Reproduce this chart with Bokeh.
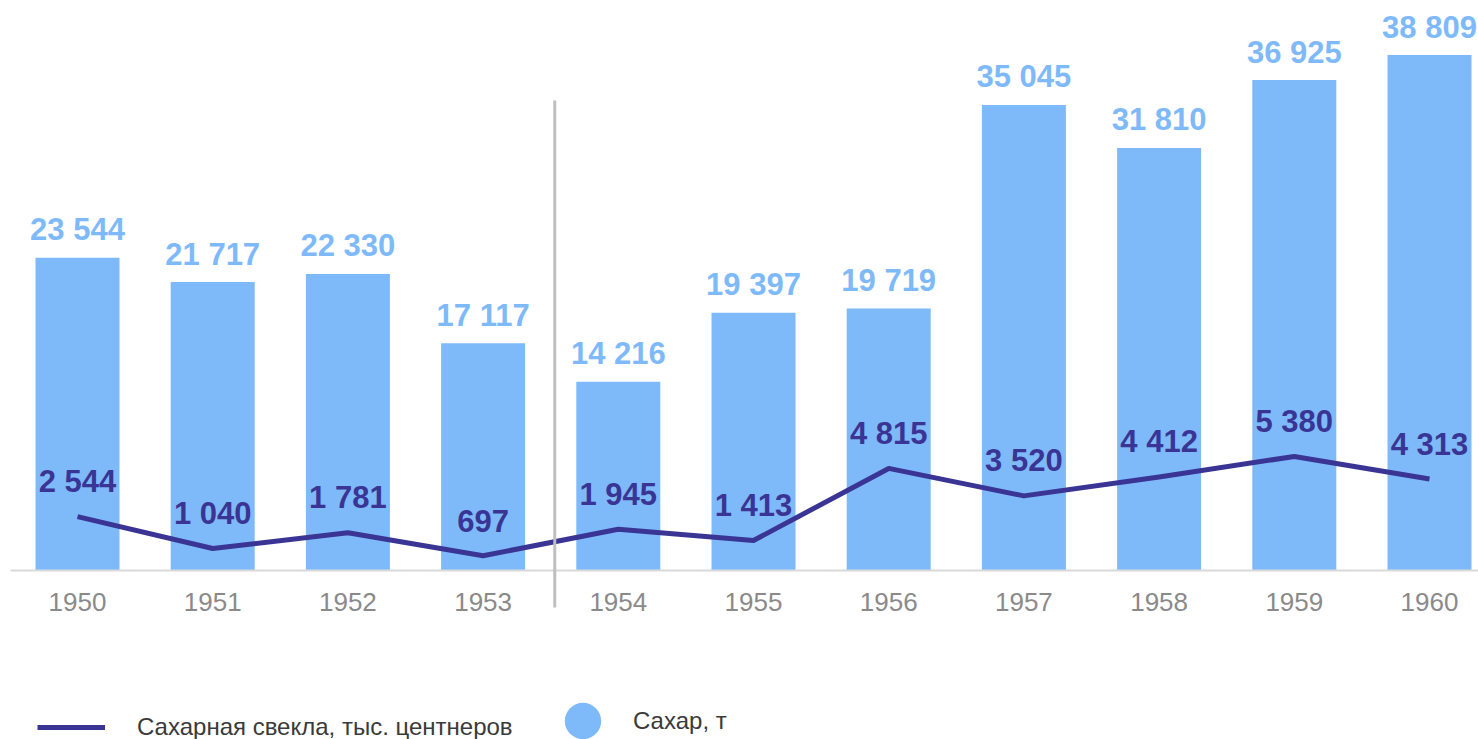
from bokeh.plotting import figure
from bokeh.models import Range1d, FixedTicker, Legend, LegendItem, Arrow, ColumnDataSource
from bokeh.core.properties import value
from bokeh.embed import file_html
from bokeh.resources import INLINE

# ---- data ----
years = [1950, 1951, 1952, 1953, 1954, 1955, 1956, 1957, 1958, 1959, 1960]
sugar_t = [23544, 21717, 22330, 17117, 14216, 19397, 19719, 35045, 31810, 36925, 38809]
beet_kc = [2544, 1040, 1781, 697, 1945, 1413, 4815, 3520, 4412, 5380, 4313]
tick_labels = [str(y) for y in years]
series_names = ["Сахарная свекла, тыс. центнеров", "Сахар, т"]
divider_after = 1953

# ---- style ----
BAR = "#7EBAFA"
NAVY = "#3A3594"
TICK = "#8A8A8A"
FONT = "Liberation Sans"

W, H = 1478, 739
BASE = 570             # px from top of the baseline
BAR_PX = 0.013283      # px per unit (sugar)
LINE_PX = 0.0212       # px per unit (beet)
YEAR_PX = 135.2
FIRST_X = 77
x_start = years[0] - FIRST_X / YEAR_PX
x_end = x_start + W / YEAR_PX


def fmt(v):
    return f"{v:,}".replace(",", " ")


src = ColumnDataSource(dict(
    x=years, sugar=sugar_t, beet=beet_kc,
    sugar_lbl=[fmt(v) for v in sugar_t],
    beet_lbl=[fmt(v) for v in beet_kc],
))

p = figure(width=W, height=H, x_range=Range1d(x_start, x_end),
           y_range=Range1d(-(H - BASE) / BAR_PX, BASE / BAR_PX),
           output_backend="svg", toolbar_location=None, y_axis_location=None,
           min_border_left=0, min_border_right=0, min_border_top=0, min_border_bottom=0)
p.extra_y_ranges = {"line": Range1d(-(H - BASE) / LINE_PX, BASE / LINE_PX)}
p.grid.visible = False
p.outline_line_color = None
p.background_fill_color = "white"

ax = p.xaxis[0]
ax.fixed_location = 0
ax.bounds = (x_start + 10 / YEAR_PX, x_end)
ax.ticker = FixedTicker(ticks=years)
ax.major_label_overrides = {y: t for y, t in zip(years, tick_labels)}
ax.axis_line_color = "#D9D9D9"
ax.axis_line_width = 2
ax.major_tick_line_color = None
ax.minor_tick_line_color = None
ax.major_tick_out = 0
ax.major_tick_in = 0
ax.major_label_standoff = 22
ax.major_label_text_font = FONT
ax.major_label_text_font_size = "26px"
ax.major_label_text_color = TICK

bars = p.vbar(x="x", top="sugar", bottom=0, width=84 / YEAR_PX, source=src,
              fill_color=BAR, line_color=None)
line = p.line(x="x", y="beet", source=src, y_range_name="line",
              line_color=NAVY, line_width=5, line_join="round")
# zero-size markers on the sugar series: only used to draw the round legend swatch
dots = p.scatter(x="x", y="sugar", source=src, size=0, marker="circle",
                 fill_color=BAR, line_color=None)

p.text(x="x", y="sugar", text="sugar_lbl", source=src,
       text_align="center", text_baseline="alphabetic", y_offset=-28,
       text_font=value(FONT), text_font_style="bold", text_font_size="31px",
       text_color=BAR)
p.text(x="x", y="beet", text="beet_lbl", source=src, y_range_name="line",
       text_align="center", text_baseline="alphabetic", y_offset=-35,
       text_font=value(FONT), text_font_style="bold", text_font_size="31px",
       text_color=NAVY)

# divider between 1953 and 1954
div_x = divider_after + 0.53
sep = Arrow(end=None, x_start=div_x, x_end=div_x,
            y_start=(BASE - 100) / BAR_PX, y_end=-(607 - BASE) / BAR_PX,
            line_color="#BFBFBF", line_width=3)
p.add_layout(sep)

# legend
common = dict(orientation="horizontal", padding=0, margin=0, border_line_color=None,
              background_fill_alpha=0, label_text_font=FONT,
              label_text_font_size="24px", label_text_color="#3A3A3A")
l1 = Legend(items=[LegendItem(label=series_names[0], renderers=[line])],
            location=(37, -2), glyph_width=68, glyph_height=24, label_height=24,
            label_standoff=32, **common)
l2 = Legend(items=[LegendItem(label=series_names[1], renderers=[dots])],
            location=(537, -27), glyph_width=91, glyph_height=91, label_height=91,
            label_standoff=5, **common)
p.add_layout(l1)
p.add_layout(l2)

open("out.html", "w").write(file_html(p, INLINE))
